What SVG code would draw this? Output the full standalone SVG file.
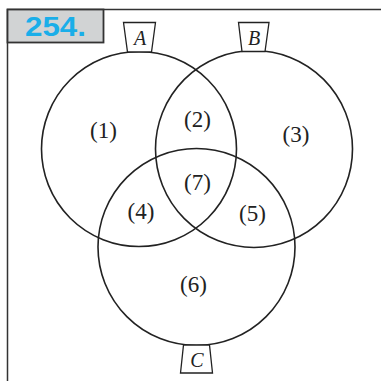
<svg xmlns="http://www.w3.org/2000/svg" width="381" height="381" viewBox="0 0 381 381">
<style>
.c{fill:none;stroke:#222;stroke-width:1.6}
.tag{fill:#fff;stroke:#222;stroke-width:1.3}
.lbl{font-family:"Liberation Serif",serif;font-size:23px;fill:#222;text-anchor:middle}
.let{font-family:"Liberation Serif",serif;font-size:20px;font-style:italic;fill:#222;text-anchor:middle}
</style>
<rect width="381" height="381" fill="#fff"/>
<path d="M7.5,381 V9.5 H381" fill="none" stroke="#333" stroke-width="1.5"/>
<g id="header">
<rect x="7.5" y="9.5" width="96" height="33" fill="#d1d3d4" stroke="#333" stroke-width="1.8"/>
<text x="25" y="36" font-family="'Liberation Sans',Arial,sans-serif" font-weight="bold" font-size="27" fill="#1aaee9" textLength="61" lengthAdjust="spacingAndGlyphs">254.</text>
</g>
<g id="circleA"><circle class="c" cx="139" cy="149" r="97.5"/></g>
<g id="circleB"><circle class="c" cx="254" cy="149" r="98.5"/></g>
<g id="circleC"><circle class="c" cx="196.5" cy="247" r="98.5"/></g>
<g id="tagA"><path class="tag" d="M123.5,22.5 H155.5 L151.5,52 H127.5 Z"/><text class="let" x="140" y="45">A</text></g>
<g id="tagB"><path class="tag" d="M238.5,22.5 H269 L265,51.5 H242 Z"/><text class="let" x="254" y="45">B</text></g>
<g id="tagC"><path class="tag" d="M183.5,345 H209.5 L212.5,373 H180.5 Z"/><text class="let" x="197" y="367">C</text></g>
<g id="labels">
<text class="lbl" x="103.5" y="138">(1)</text>
<text class="lbl" x="197.5" y="127">(2)</text>
<text class="lbl" x="296" y="142">(3)</text>
<text class="lbl" x="141" y="219">(4)</text>
<text class="lbl" x="252.5" y="221">(5)</text>
<text class="lbl" x="193.5" y="292">(6)</text>
<text class="lbl" x="197.5" y="190">(7)</text>
</g>
</svg>
